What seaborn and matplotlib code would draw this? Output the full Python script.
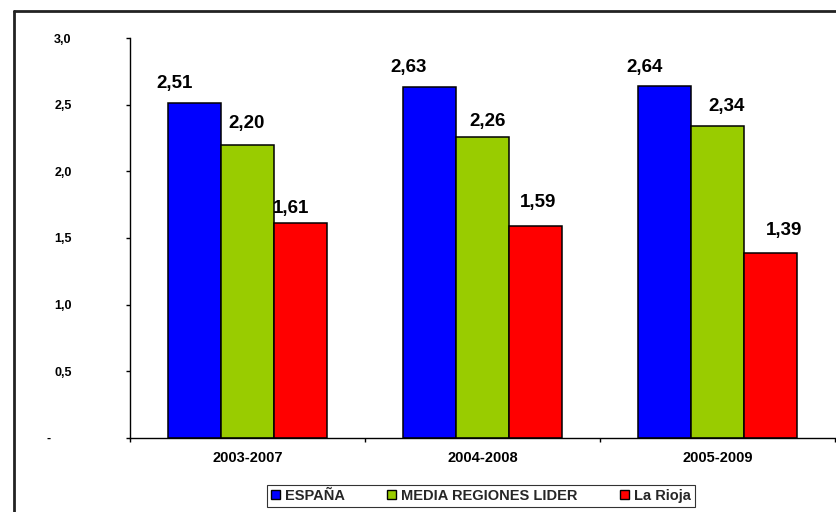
import matplotlib
matplotlib.use("Agg")
import matplotlib.pyplot as plt
import seaborn as sns
import pandas as pd
from matplotlib.lines import Line2D
from matplotlib.patches import Patch

periods = ["2003-2007", "2004-2008", "2005-2009"]
series = ["ESPAÑA", "MEDIA REGIONES LIDER", "La Rioja"]
espana = [2.51, 2.63, 2.64]
media_lider = [2.20, 2.26, 2.34]
la_rioja = [1.61, 1.59, 1.39]
ytick_values = [0, 0.5, 1.0, 1.5, 2.0, 2.5, 3.0]
ytick_labels = ["-", "0,5", "1,0", "1,5", "2,0", "2,5", "3,0"]
colors = ["#0000FF", "#99CC00", "#FF0000"]

# label placement tweaks (pixels): horizontal shift, gap above bar
label_dx = [[-20, -21, -20], [-1, 5, 9], [-10, 2.5, 13.5]]
label_gap = [[15, 15, 14], [17, 11, 15], [10, 19, 18]]

df = pd.DataFrame({
    "period": periods * 3,
    "serie": [series[0]] * 3 + [series[1]] * 3 + [series[2]] * 3,
    "value": espana + media_lider + la_rioja,
})

sns.set_theme(style="white")
plt.rcParams["font.family"] = ["Liberation Sans", "DejaVu Sans"]
plt.rcParams["font.weight"] = "bold"

dpi = 100
fig = plt.figure(figsize=(837 / dpi, 512 / dpi), dpi=dpi)
fig.patch.set_facecolor("white")
W, H = 837, 512
ax = fig.add_axes([130 / W, (H - 438) / H, (835 - 130) / W, 400 / H])

sns.barplot(data=df, x="period", y="value", hue="serie", order=periods,
            hue_order=series, palette=colors, width=0.68, edgecolor="black",
            linewidth=1.1, saturation=1, ax=ax, legend=False)

ax.set_xlim(-0.5, 2.5)
ax.set_ylim(0, 3.0)
ax.set_xlabel("")
ax.set_ylabel("")

for s in ["top", "right"]:
    ax.spines[s].set_visible(False)
for s in ["left", "bottom"]:
    ax.spines[s].set_color("black")
    ax.spines[s].set_linewidth(1.0)

ax.set_yticks(ytick_values)
ax.set_yticklabels([t if t != "-" else "-      " for t in ytick_labels],
                   fontsize=9, fontweight="bold", color="black")
ax.tick_params(axis="y", direction="out", length=3, width=1, color="black",
               pad=39, left=True)
ax.set_xticks(range(len(periods)))
ax.set_xticklabels(periods, fontsize=10.5, fontweight="bold", color="black")
ax.tick_params(axis="x", which="major", length=0, pad=9)
ax.set_xticks([-0.5, 0.5, 1.5, 2.5], minor=True)
ax.tick_params(axis="x", which="minor", direction="out", length=3, width=1,
               color="black", bottom=True)

for i, cont in enumerate(ax.containers):
    for j, bar in enumerate(cont):
        v = bar.get_height()
        ax.annotate(f"{v:.2f}".replace(".", ","),
                    xy=(bar.get_x() + bar.get_width() / 2, v),
                    xytext=(label_dx[i][j] * 72 / dpi, label_gap[i][j] * 72 / dpi),
                    textcoords="offset points", ha="center", va="baseline",
                    fontsize=13.5, fontweight="bold", color="black")

handles = [Patch(facecolor=c, edgecolor="black", linewidth=1) for c in colors]
leg = fig.legend(handles, series, loc="center", bbox_to_anchor=(481 / W, (H - 496) / H),
                 ncol=3, frameon=True, fancybox=False,
                 handlelength=0.6, handleheight=0.6, handletextpad=0.35,
                 columnspacing=2.9, borderpad=0.3, borderaxespad=0,
                 prop={"weight": "bold", "size": 10.5})
leg.get_frame().set_edgecolor("black")
leg.get_frame().set_linewidth(0.8)

# outer chart border
fig.add_artist(Line2D([14 / W, 14 / W], [0, (H - 11) / H], color="#222222", lw=2,
                      transform=fig.transFigure))
fig.add_artist(Line2D([14 / W, 1], [(H - 11) / H, (H - 11) / H], color="#222222", lw=2,
                      transform=fig.transFigure))

fig.savefig("out.png", dpi=dpi, facecolor="white")
